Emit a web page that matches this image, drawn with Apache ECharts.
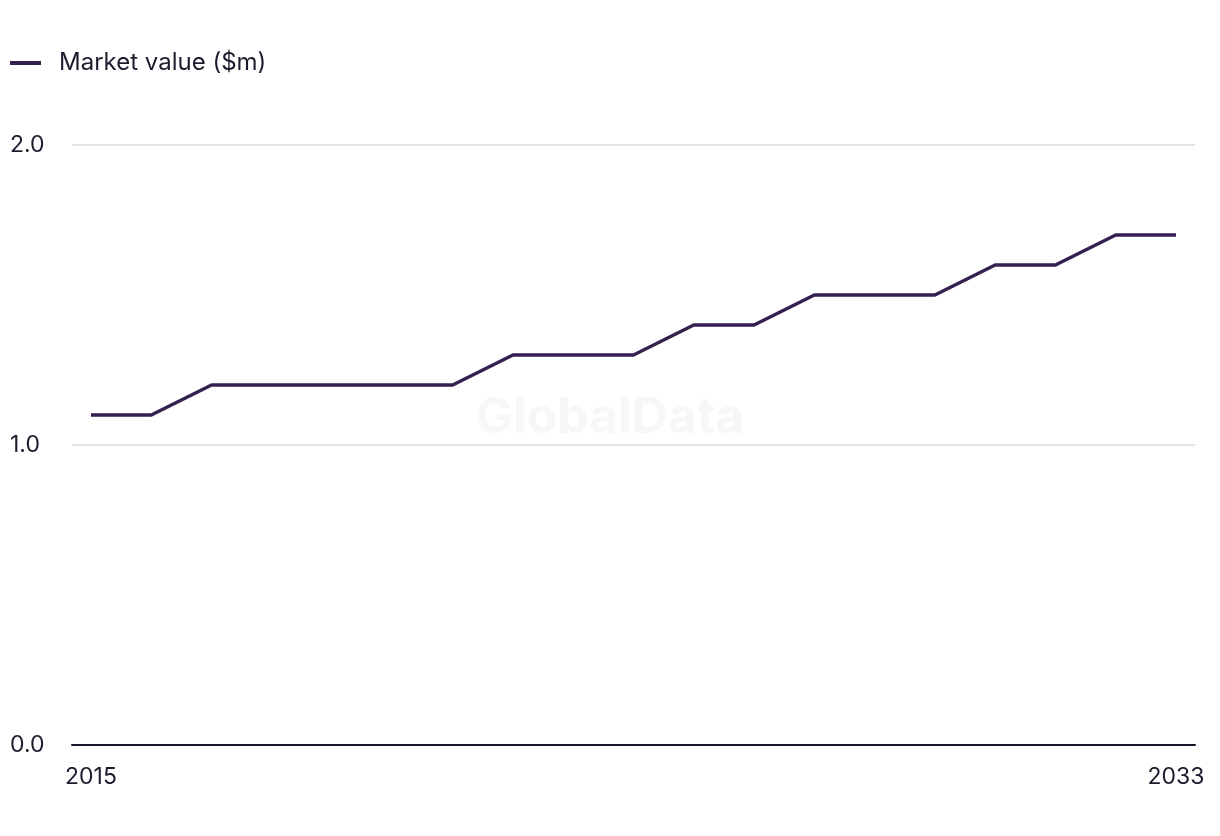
<!DOCTYPE html>
<html>
<head>
<meta charset="utf-8">
<script src="https://cdn.jsdelivr.net/npm/echarts@6/dist/echarts.min.js"></script>
<style>
html,body{margin:0;padding:0;background:#fff;}
#chart{width:1220px;height:836px;}
</style>
</head>
<body>
<div id="chart"></div>
<script>
const years = [2015,2016,2017,2018,2019,2020,2021,2022,2023,2024,2025,2026,2027,2028,2029,2030,2031,2032,2033];
const marketValue = [1.1,1.1,1.2,1.2,1.2,1.2,1.2,1.3,1.3,1.3,1.4,1.4,1.5,1.5,1.5,1.6,1.6,1.7,1.7];
const xTickLabels = [2015, 2033];
const yTicks = [0, 1, 2];
const seriesName = 'Market value ($m)';

const chart = echarts.init(document.getElementById('chart'));
const font = 'Inter, "Noto Sans", sans-serif';
chart.setOption({
  backgroundColor: '#ffffff',
  animation: false,
  graphic: [{
    type: 'text',
    left: 'center',
    top: 393,
    style: { text: 'GlobalData', fontSize: 50, fontWeight: 'bold', fill: '#f7f7f7', fontFamily: font }
  }],
  legend: {
    left: 10, top: 51,
    padding: 0,
    icon: 'rect',
    itemWidth: 31, itemHeight: 4,
    itemGap: 20,
    textStyle: { fontSize: 24, color: '#1c1c2e', fontFamily: font, padding: [0,0,0,13] },
    data: [seriesName]
  },
  grid: { left: 72, right: 25, top: 145, bottom: 91, containLabel: false },
  xAxis: {
    type: 'value',
    min: 2015 - 19/60.28,
    max: 2033 + 19/60.28,
    splitLine: { show: false },
    axisLine: { show: true, lineStyle: { color: '#161629', width: 2 } },
    axisTick: { show: false },
    axisLabel: {
      customValues: xTickLabels,
      formatter: v => String(Math.round(v)),
      fontSize: 23, color: '#1c1c2e', fontFamily: font, margin: 21
    }
  },
  yAxis: {
    type: 'value',
    min: 0, max: 2, interval: 1,
    axisLine: { show: false },
    axisTick: { show: false },
    splitLine: { lineStyle: { color: '#d9d9d9', width: 1.5 } },
    axisLabel: {
      customValues: yTicks,
      formatter: v => v.toFixed(1),
      align: 'left', margin: 62,
      fontSize: 23, color: '#1c1c2e', fontFamily: font
    }
  },
  series: [{
    name: seriesName,
    type: 'line',
    data: years.map((y, i) => [y, marketValue[i]]),
    showSymbol: false,
    symbol: 'none',
    lineStyle: { color: '#35214f', width: 3.5 },
    itemStyle: { color: '#35214f' }
  }]
});
</script>
</body>
</html>
